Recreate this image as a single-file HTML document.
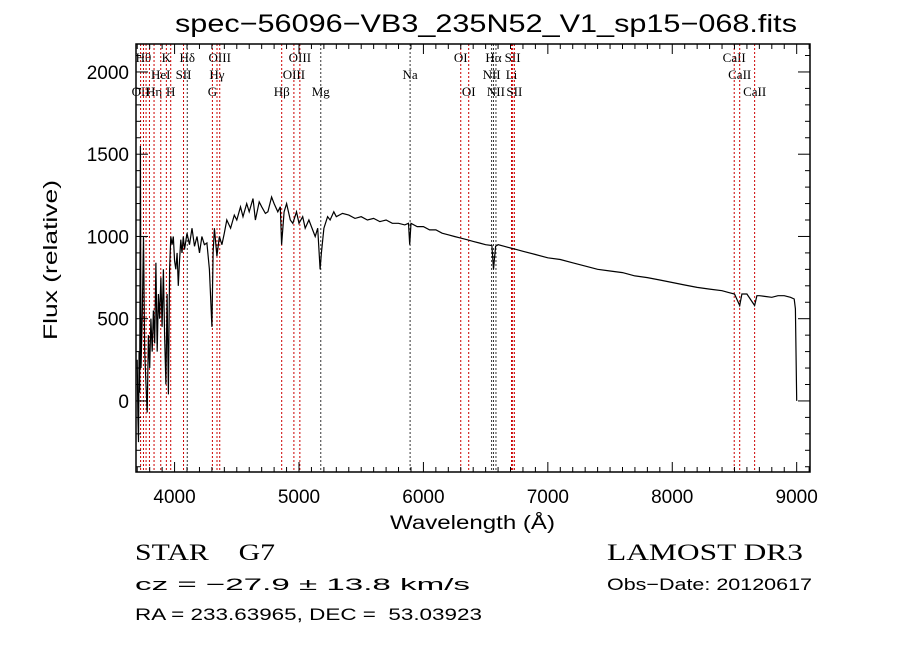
<!DOCTYPE html>
<html><head><meta charset="utf-8"><style>
html,body{margin:0;padding:0;background:#fff;}
svg{display:block;}
text{fill:#000;white-space:pre;}
.m{font-family:"Liberation Sans",sans-serif;}
.s{font-family:"Liberation Serif",serif;}
</style></head><body>
<svg id="chart" width="900" height="649" viewBox="0 0 900 649" xmlns="http://www.w3.org/2000/svg" xml:space="preserve">
<rect width="900" height="649" fill="#fff"/>
<text class="m" x="175" y="32" font-size="25" textLength="622" lengthAdjust="spacingAndGlyphs">spec−56096−VB3_235N52_V1_sp15−068.fits</text>
<g id="lines"></g>
<g id="ticks"></g>
<path id="spec" fill="none" stroke="#000" stroke-width="1.2"/>
<rect x="136" y="44" width="674" height="428" fill="none" stroke="#000" stroke-width="1.5"/>
<text class="m" font-size="19" transform="translate(57,260) rotate(-90)" text-anchor="middle" textLength="160" lengthAdjust="spacingAndGlyphs">Flux (relative)</text>
<text class="m" font-size="19" x="390" y="529" textLength="165" lengthAdjust="spacingAndGlyphs">Wavelength (Å)</text>
<text class="s" font-size="23" x="135" y="560" textLength="140" lengthAdjust="spacingAndGlyphs">STAR    G7</text>
<text class="s" font-size="23" x="607" y="560" textLength="196" lengthAdjust="spacingAndGlyphs">LAMOST DR3</text>
<text class="m" font-size="17" x="135" y="590" textLength="335" lengthAdjust="spacingAndGlyphs">cz = −27.9 ± 13.8 km/s</text>
<text class="m" font-size="17" x="607" y="590" textLength="205" lengthAdjust="spacingAndGlyphs">Obs−Date: 20120617</text>
<text class="m" font-size="17" x="135" y="620" textLength="347" lengthAdjust="spacingAndGlyphs">RA = 233.63965, DEC =  53.03923</text>
</svg>
<script>
const wave=[3700,3705,3710,3715,3720,3725,3730,3740,3750,3760,3770,3780,3790,3800,3810,3820,3830,3840,3850,3860,3870,3880,3890,3900,3910,3920,3930,3940,3950,3960,3970,3980,3990,4000,4010,4020,4030,4040,4050,4060,4070,4080,4100,4120,4140,4160,4180,4200,4220,4240,4260,4280,4300,4310,4320,4340,4360,4380,4400,4420,4450,4480,4500,4530,4550,4580,4600,4630,4650,4680,4700,4730,4750,4780,4800,4830,4850,4860,4880,4900,4930,4950,4980,5000,5030,5050,5080,5100,5130,5150,5170,5180,5200,5230,5250,5280,5300,5350,5400,5450,5500,5550,5600,5650,5700,5750,5800,5850,5880,5890,5900,5950,6000,6050,6100,6150,6200,6250,6300,6350,6400,6450,6500,6550,6563,6580,6600,6650,6700,6750,6800,6900,7000,7100,7200,7300,7400,7500,7600,7700,7800,7900,8000,8100,8200,8300,8400,8450,8500,8542,8560,8600,8662,8680,8700,8750,8800,8850,8900,8950,8980,8990,9000];
const flux=[250,-100,-250,300,50,1550,200,500,1000,300,100,-70,400,200,500,300,550,350,840,300,650,500,750,450,800,400,100,650,40,800,1000,950,1000,850,800,900,700,850,980,900,1000,920,1020,950,1050,940,1000,900,1000,950,960,800,450,900,1050,880,1000,950,1020,1100,1050,1130,1100,1180,1120,1200,1150,1230,1100,1210,1180,1140,1150,1240,1200,1150,1180,950,1150,1200,1100,1080,1150,1080,1120,1050,1100,1060,1000,1050,800,900,1050,1120,1100,1150,1120,1140,1130,1110,1120,1100,1110,1090,1100,1080,1080,1070,1080,950,1080,1060,1060,1040,1040,1020,1010,1000,990,980,970,960,950,945,800,940,950,940,930,920,910,890,870,860,840,820,800,790,780,760,750,735,720,705,690,680,670,660,650,580,650,650,580,640,640,635,630,640,640,630,620,560,0];
const lineWave=[3727,3750,3771,3798,3835,3889,3934,3969,4072,4102,4304,4341,4363,4861,4959,5007,5175,5893,6300,6364,6548,6563,6583,6708,6717,6731,8498,8542,8662];
const lineLabel=["OII","Hθ","","","Hη","HeI","K","H","SII","Hδ","G","Hγ","OIII","Hβ","OIII","OIII","Mg","Na","OI","OI","NII","Hα","NII","Li","SII","SII","CaII","CaII","CaII"];
const lineRow=[2,0,1,0,2,1,0,2,1,0,2,1,0,2,1,0,2,1,0,2,1,0,2,1,0,2,0,1,2];
const lineBlack=[0,0,0,0,0,0,0,0,0,1,0,0,0,0,0,0,1,1,0,0,1,1,1,0,0,0,0,0,0];
const xTicks=[4000,5000,6000,7000,8000,9000];
const yTicks=[0,500,1000,1500,2000];
const X0=136,X1=810,Y0=44,Y1=472,W0=3690,W1=9107,F0=-432,F1=2170;
const sx=w=>X0+(w-W0)/(W1-W0)*(X1-X0);
const sy=f=>Y1-(f-F0)/(F1-F0)*(Y1-Y0);
const NS="http://www.w3.org/2000/svg";
function mk(tag,attrs,parent){const e=document.createElementNS(NS,tag);for(const k in attrs)e.setAttribute(k,attrs[k]);parent.appendChild(e);return e;}
let d="";wave.forEach((w,i)=>{d+=(i?"L":"M")+sx(w).toFixed(1)+","+sy(flux[i]).toFixed(1);});
document.getElementById('spec').setAttribute('d',d);
const lg=document.getElementById('lines');
lineWave.forEach((w,i)=>{
  const l=mk('line',{x1:sx(w),x2:sx(w),y1:Y0,y2:Y1,stroke:lineBlack[i]?'#333':'#c00','stroke-width':1,'stroke-dasharray':'2,2'},lg);
  
  
  if(lineLabel[i]){
    const t=mk('text',{x:sx(w),y:62+lineRow[i]*17,'font-size':13,'text-anchor':'middle','class':'s'},lg);
    t.textContent=lineLabel[i];
    
    
  }
});
const tg=document.getElementById('ticks');
for(let w=3700;w<=9100;w+=100){const x=sx(w);const L=w%1000===0?10:5;
  mk('line',{x1:x,x2:x,y1:Y1,y2:Y1-L,stroke:'#000'},tg);mk('line',{x1:x,x2:x,y1:Y0,y2:Y0+L,stroke:'#000'},tg);}
for(let f=-400;f<=2100;f+=100){const y=sy(f);const L=f%500===0?12:5;
  mk('line',{x1:X0,x2:X0+L,y1:y,y2:y,stroke:'#000'},tg);mk('line',{x1:X1,x2:X1-L,y1:y,y2:y,stroke:'#000'},tg);}
xTicks.forEach(w=>{const t=mk('text',{x:sx(w),y:503,'font-size':19,'text-anchor':'middle','class':'m'},tg);t.textContent=w;
  
  });
yTicks.forEach(f=>{const t=mk('text',{x:129,y:sy(f)+7,'font-size':19,'text-anchor':'end','class':'m'},tg);t.textContent=f;
  
  });
</script>
</body></html>
